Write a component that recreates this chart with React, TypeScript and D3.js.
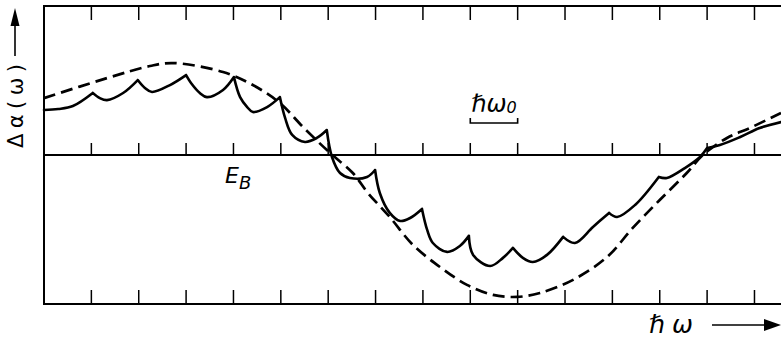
import React from 'react';
import * as d3 from 'd3';

const W = 781;
const H = 339;

// tick positions in units of ħω0
const xTicks = [1, 2, 3, 4, 5, 6, 7, 8, 9, 10, 11, 12, 13, 14, 15];

// dashed (smooth) curve, x in units of ħω0, y in arbitrary units
const dashedCurve: [number, number][] = [
  [0, 0.401], [1.33, 0.542], [2.24, 0.627], [2.72, 0.648], [3.78, 0.585],
  [4.41, 0.493], [4.98, 0.366], [5.47, 0.197], [6.04, 0.014], [6.52, -0.127],
  [6.84, -0.268], [7.3, -0.437], [7.79, -0.634], [8.36, -0.789], [8.93, -0.915],
  [9.48, -0.986], [9.99, -1.0], [10.47, -0.972], [11.17, -0.88], [11.89, -0.718],
  [12.43, -0.514], [13.0, -0.317], [13.57, -0.127], [13.91, 0.0], [14.42, 0.12],
  [14.9, 0.19], [15.56, 0.296],
];

// solid (scalloped) curve, one segment between successive cusps
const solidSegments: [number, number][][] = [
  [[0, 0.317], [0.3, 0.324], [0.61, 0.345], [1.03, 0.437]],
  [[1.03, 0.437], [1.18, 0.401], [1.33, 0.387], [1.67, 0.437], [1.98, 0.528]],
  [[1.98, 0.528], [2.13, 0.472], [2.28, 0.444], [2.66, 0.493], [3.0, 0.563]],
  [[3.0, 0.563], [3.12, 0.5], [3.29, 0.437], [3.44, 0.408], [3.78, 0.458], [4.01, 0.549]],
  [[4.01, 0.549], [4.14, 0.408], [4.29, 0.338], [4.41, 0.303], [4.71, 0.338], [4.98, 0.408]],
  [[4.98, 0.408], [5.09, 0.261], [5.24, 0.141], [5.51, 0.092], [5.76, 0.12], [5.97, 0.176]],
  [[5.97, 0.176], [6.08, -0.014], [6.25, -0.127], [6.46, -0.162], [6.82, -0.155], [6.99, -0.106]],
  [[6.99, -0.106], [7.09, -0.268], [7.3, -0.408], [7.52, -0.465], [7.73, -0.444], [7.98, -0.38]],
  [[7.98, -0.38], [8.09, -0.528], [8.21, -0.62], [8.51, -0.683], [8.78, -0.641], [8.97, -0.57]],
  [[8.97, -0.57], [9.06, -0.704], [9.42, -0.782], [9.69, -0.725], [9.9, -0.655]],
  [[9.9, -0.655], [10.11, -0.725], [10.32, -0.754], [10.62, -0.704], [10.96, -0.577]],
  [[10.96, -0.577], [11.21, -0.62], [11.59, -0.507], [11.93, -0.408]],
  [[11.93, -0.408], [12.1, -0.437], [12.48, -0.352], [12.98, -0.155]],
  [[12.98, -0.155], [13.15, -0.162], [13.53, -0.092], [13.85, -0.014], [14.0, 0.049]],
  [[14.0, 0.049], [14.27, 0.07], [14.7, 0.127], [15.11, 0.19], [15.56, 0.232]],
];

// bracket marking one quantum ħω0
const bracketRange = [9, 10];

export default function App() {
  const x = d3.scaleLinear().domain([0, 15.56]).range([44, 781]);
  const y = d3.scaleLinear().domain([-1.05, 1.05]).range([304, 6]);
  const line = d3
    .line<[number, number]>()
    .x((d) => x(d[0]))
    .y((d) => y(d[1]))
    .curve(d3.curveCatmullRom.alpha(0.5));

  const yTop = y(1.05);
  const yBot = y(-1.05);
  const y0 = y(0);
  const solidD = solidSegments.map((s) => line(s) || '').join('');
  const dashedD = line(dashedCurve) || '';
  const font = 'DejaVu Sans, sans-serif';
  const bx0 = x(bracketRange[0]);
  const bx1 = x(bracketRange[1]);

  return (
    <svg
      width={W}
      height={H}
      viewBox={`0 0 ${W} ${H}`}
      style={{ position: 'absolute', left: 0, top: 0, background: '#fff' }}
    >
      <rect x={0} y={0} width={W} height={H} fill="#fff" />
      {/* frame */}
      <line x1={x(0)} x2={W} y1={yTop} y2={yTop} stroke="#000" strokeWidth={2.2} />
      <line x1={x(0)} x2={W} y1={yBot} y2={yBot} stroke="#000" strokeWidth={2.2} />
      <line x1={x(0)} x2={W} y1={y0} y2={y0} stroke="#000" strokeWidth={2} />
      <line x1={x(0)} x2={x(0)} y1={yTop - 1} y2={yBot + 1} stroke="#000" strokeWidth={2} />
      {/* ticks */}
      {xTicks.map((t) => (
        <g key={t} stroke="#000" strokeWidth={1.5}>
          <line x1={x(t)} x2={x(t)} y1={yTop} y2={yTop + 14} />
          <line x1={x(t)} x2={x(t)} y1={y0 - 12} y2={y0} />
          <line x1={x(t)} x2={x(t)} y1={yBot - 14} y2={yBot} />
        </g>
      ))}
      {/* curves */}
      <path d={dashedD} fill="none" stroke="#000" strokeWidth={2.7} strokeDasharray="12,6" />
      <path d={solidD} fill="none" stroke="#000" strokeWidth={2.6} strokeLinejoin="round" strokeLinecap="round" />
      {/* ħω0 bracket */}
      <text x={bx0 + 1} y={112} fontFamily={font} fontStyle="italic" fontSize={24} fill="#000">
        ℏω<tspan fontSize={16} dy={1}>0</tspan>
      </text>
      <path
        d={`M${bx0},${118}V${123}H${bx1}V${118}`}
        fill="none"
        stroke="#000"
        strokeWidth={1.6}
      />
      {/* E_B */}
      <text x={225} y={183} fontFamily={font} fontStyle="italic" fontSize={22} fill="#000">
        E<tspan fontSize={18} dy={6}>B</tspan>
      </text>
      {/* y label */}
      <text
        transform={`translate(23,106) rotate(-90)`}
        textAnchor="middle"
        fontFamily={font}
        fontSize={21}
        fill="#000"
        textLength={84}
        lengthAdjust="spacing"
      >
        Δα(ω)
      </text>
      <line x1={15} x2={15} y1={56} y2={20} stroke="#000" strokeWidth={1.6} />
      <path d="M15,8L19.5,26H10.5Z" fill="#000" />
      {/* x label */}
      <text x={649} y={333} fontFamily={font} fontStyle="italic" fontSize={25} fill="#000" textLength={44} lengthAdjust="spacing">
        ℏω
      </text>
      <line x1={712} x2={770} y1={325} y2={325} stroke="#000" strokeWidth={1.6} />
      <path d="M781,325L764,319V331Z" fill="#000" />
    </svg>
  );
}
